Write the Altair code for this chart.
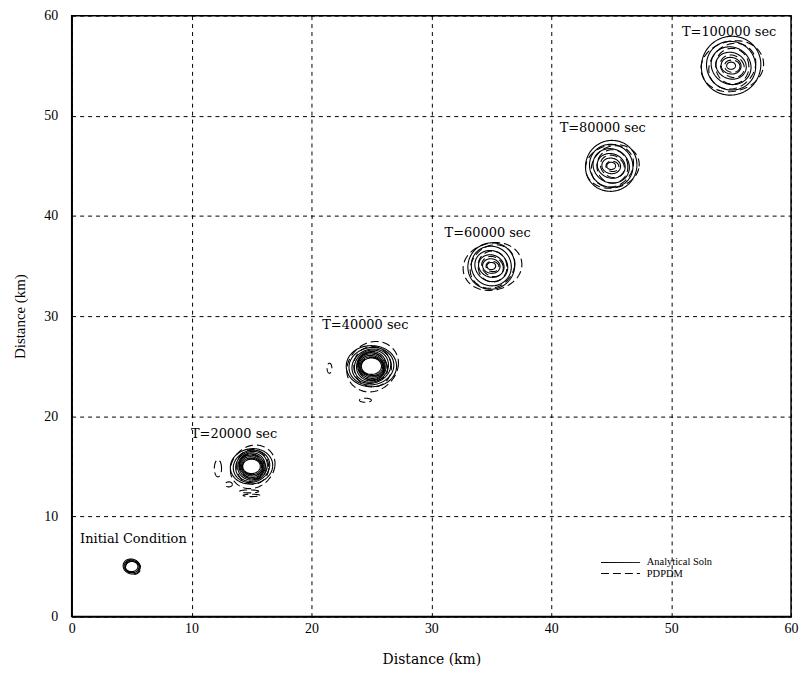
import altair as alt
import numpy as np
import pandas as pd

# ---- data ----
times = ["Initial Condition", "T=20000 sec", "T=40000 sec", "T=60000 sec", "T=80000 sec", "T=100000 sec"]
center_x = [5.0, 15.0, 25.0, 35.0, 45.0, 55.0]
center_y = [5.0, 15.0, 25.0, 35.0, 45.0, 55.0]
analytical_radii = [
    [0.5, 0.6, 0.7],
    [0.7, 0.8, 0.9, 1.0, 1.1, 1.2, 1.35, 1.5, 1.7],
    [0.8, 0.9, 1.0, 1.1, 1.2, 1.3, 1.45, 1.6, 1.8, 2.0],
    [0.35, 0.7, 1.05, 1.4, 1.75, 2.05],
    [0.35, 0.75, 1.15, 1.55, 1.9, 2.25],
    [0.35, 0.8, 1.25, 1.7, 2.15, 2.6],
]
pdpdm_radii = [
    [0.55, 0.65],
    [0.8, 1.1, 1.45, 1.9],
    [0.9, 1.25, 1.7, 2.2],
    [0.5, 0.9, 1.3, 1.9, 2.3],
    [0.5, 1.0, 1.4, 1.8, 2.1],
    [0.6, 1.0, 1.5, 2.0, 2.45],
]
# small spurious PDPDM contours (cx, cy, rx, ry)
blob_x = [12.2, 13.1, 14.8, 15.0, 21.5, 24.5]
blob_y = [14.8, 13.2, 12.5, 12.1, 24.8, 21.6]
blob_rx = [0.3, 0.3, 0.8, 0.7, 0.2, 0.5]
blob_ry = [0.85, 0.25, 0.15, 0.12, 0.5, 0.2]

label_x = [0.7, 9.95, 20.9, 31.1, 40.7, 50.9]
label_y = [7.7, 18.2, 29.1, 38.3, 48.8, 58.4]

series_names = ["Analytical Soln", "PDPDM"]
legend_y = [5.4, 4.3]
legend_x_start = [44.15, 44.15]
legend_x_end = [47.4, 47.4]
legend_text_x = [47.97, 47.97]

# ---- build contour paths ----
theta = np.linspace(0, 2 * np.pi, 73)
rows = []
rid = 0
for k in range(len(times)):
    for j, r in enumerate(analytical_radii[k]):
        wob = 1 + 0.05 * np.cos(2 * theta + 0.7 * j)
        for i, t in enumerate(theta):
            rows.append(dict(ring=rid, i=i, series=series_names[0],
                             x=center_x[k] + r * 1.0 * np.cos(t) * wob[i],
                             y=center_y[k] + r * 1.08 * np.sin(t) * wob[i]))
        rid += 1
    for j, r in enumerate(pdpdm_radii[k]):
        wob = 1 + 0.08 * np.cos(2 * theta + 1.3 * j + 0.4)
        for i, t in enumerate(theta):
            rows.append(dict(ring=rid, i=i, series=series_names[1],
                             x=center_x[k] + 0.1 + r * np.cos(t) * wob[i],
                             y=center_y[k] - 0.05 + r * 1.1 * np.sin(t) * wob[i]))
        rid += 1
for b in range(len(blob_x)):
    for i, t in enumerate(theta):
        rows.append(dict(ring=rid, i=i, series=series_names[1],
                         x=blob_x[b] + blob_rx[b] * np.cos(t),
                         y=blob_y[b] + blob_ry[b] * np.sin(t)))
    rid += 1
rings = pd.DataFrame(rows)
labels = pd.DataFrame(dict(x=label_x, y=label_y, text=times))
legend_df = pd.DataFrame(dict(series=series_names, y=legend_y, x=legend_x_start,
                              x2=legend_x_end, tx=legend_text_x))

FONT = "Liberation Serif"
WIDE = "DejaVu Serif"
ticks = [0, 10, 20, 30, 40, 50, 60]
xscale = alt.Scale(domain=[0, 60], nice=False)
yscale = alt.Scale(domain=[0, 60], nice=False)
dash = alt.Scale(domain=series_names, range=[[1, 0], [8, 4]])

lines = alt.Chart(rings).mark_line(strokeWidth=1.1, color="black").encode(
    x=alt.X("x:Q", scale=xscale, title="Distance (km)",
            axis=alt.Axis(values=ticks, labelFlush=False, titleFont=WIDE, titleFontSize=14)),
    y=alt.Y("y:Q", scale=yscale, title="Distance (km)",
            axis=alt.Axis(values=ticks, labelFlush=False)),
    detail="ring:N",
    order="i:Q",
    strokeDash=alt.StrokeDash("series:N", scale=dash, legend=None),
)

texts = alt.Chart(labels).mark_text(align="left", baseline="middle", font=WIDE,
                                    fontSize=13, color="black").encode(
    x=alt.X("x:Q", scale=xscale), y=alt.Y("y:Q", scale=yscale), text="text:N")

leg_lines = alt.Chart(legend_df).mark_rule(color="black", strokeWidth=1).encode(
    x=alt.X("x:Q", scale=xscale), x2="x2:Q", y=alt.Y("y:Q", scale=yscale),
    strokeDash=alt.StrokeDash("series:N", scale=dash, legend=None),
)
leg_text = alt.Chart(legend_df).mark_text(align="left", baseline="middle", font=FONT,
                                          fontSize=10.5, color="black").encode(
    x=alt.X("tx:Q", scale=xscale), y=alt.Y("y:Q", scale=yscale), text="series:N")

chart = alt.layer(lines, texts, leg_lines, leg_text).properties(
    width=723, height=604,
    autosize=alt.AutoSizeParams(type="none"),
    padding={"left": 64, "top": 6, "right": 8, "bottom": 50},
    background="white",
).configure_view(stroke="black", strokeWidth=1.5).configure_axis(
    grid=True, gridColor="black", gridDash=[4, 4], gridOpacity=1, gridWidth=1,
    domain=True, domainColor="black", domainWidth=1.5,
    ticks=False, labelFont=FONT, labelFontSize=14, labelColor="black",
    titleFont=FONT, titleFontSize=15, titleFontWeight="normal", titleColor="black",
).configure_axisX(labelPadding=5, titlePadding=17).configure_axisY(
    labelPadding=14, titlePadding=16)

chart.save("out.html", embed_options={"renderer": "svg", "actions": False})
